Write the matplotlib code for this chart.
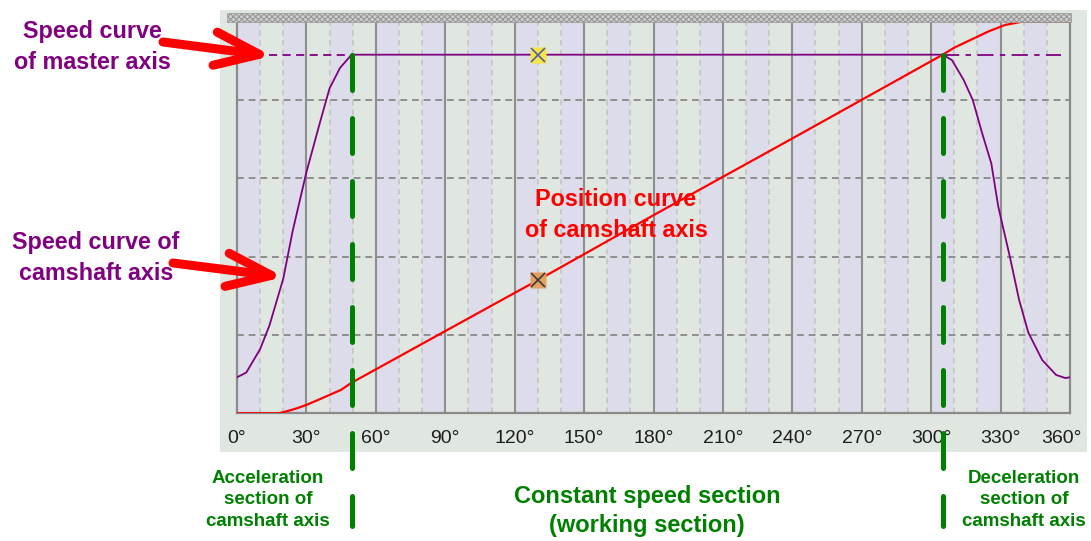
import numpy as np
import matplotlib
matplotlib.use('Agg')
import matplotlib.pyplot as plt
from matplotlib.patches import Rectangle, FancyArrowPatch
from matplotlib.transforms import ScaledTranslation

plt.rcParams['font.family'] = ['Liberation Sans', 'DejaVu Sans']
plt.rcParams['hatch.linewidth'] = 0.8

# Data (cam angle in degrees, y in grid units 0..5)
speed_deg = [0, 4, 10, 14, 20, 24, 30, 36, 40, 44.5, 49.5,
             305, 309, 314, 318, 322, 326, 329, 334, 338, 342, 348, 354, 358, 360]
speed_val = [0.46, 0.52, 0.82, 1.12, 1.72, 2.32, 3.08, 3.73, 4.15, 4.41, 4.58,
             4.58, 4.51, 4.26, 4.00, 3.58, 3.19, 2.64, 2.00, 1.45, 1.03, 0.68, 0.49, 0.45, 0.46]

pos_deg = [0, 18, 22, 26, 30, 35, 40, 45, 49.5, 90, 130, 180, 240,
           305, 310, 315, 320, 325, 332, 339, 360]
pos_val = [0.0, 0.0, 0.03, 0.065, 0.107, 0.17, 0.235, 0.30, 0.39, 1.05, 1.70, 2.53, 3.51,
           4.58, 4.67, 4.74, 4.81, 4.88, 4.96, 5.0, 5.0]

master_level = 4.58
master_left = [14, 49.5]
master_right = [305, 356]

section_bounds = [49.5, 305]
marker_deg = 130
marker_speed = 4.58
marker_pos = 1.70

tick_deg = list(range(0, 361, 30))
tick_labels = [f'{d}°' for d in tick_deg]

W, H = 1091, 541
PURPLE = '#800080'
GREEN = '#008000'
LAVENDER = '#DCDCEB'
SAGE = '#E0E6E0'
YTOP = 5.03
PX_PER_UNIT = 78.3


def fx(x):
    return x / W


def fy(y):
    return 1 - y / H


fig = plt.figure(figsize=(W / 100, H / 100), dpi=100)
fig.patch.set_facecolor('white')

# grey-green panel behind the chart
fig.patches.append(Rectangle((fx(220), fy(452)), fx(1087) - fx(220), (452 - 10) / H,
                             transform=fig.transFigure, facecolor=SAGE,
                             edgecolor='none', zorder=-2))
# hatched strip on top of the plot area
fig.patches.append(Rectangle((fx(227), fy(21.5)), fx(1071) - fx(227), 8.5 / H,
                             transform=fig.transFigure, facecolor='#D0D0D0',
                             edgecolor='#969696', hatch='xxxxxx', lw=0.5, zorder=5))

ax_h = YTOP * PX_PER_UNIT
ax = fig.add_axes([fx(237), fy(413.3), fx(1070) - fx(237), ax_h / H])
ax.set_xlim(0, 360)
ax.set_ylim(0, YTOP)
ax.set_facecolor(SAGE)

# alternating 10 degree bands
for i, d in enumerate(range(0, 360, 10)):
    ax.axvspan(d, d + 10, color=LAVENDER if i % 2 == 0 else SAGE, lw=0, zorder=0)

for d in range(10, 360, 10):
    if d % 30 == 0:
        ax.axvline(d, color='#8E8E8E', lw=1.5, zorder=1)
    else:
        ax.axvline(d, color='#C6C6C6', lw=1.3, dashes=(3, 2.5), zorder=1)
for yv in [1, 2, 3, 4]:
    ax.axhline(yv, color='#8E8E8E', lw=1.4, dashes=(3.5, 2.5), zorder=1)

# curves
ax.plot(speed_deg, speed_val, color=PURPLE, lw=1.3, zorder=3)
ax.plot(master_left, [master_level] * 2, color=PURPLE, lw=1.3, dashes=(4.5, 3), zorder=3)
ax.plot(master_right, [master_level] * 2, color=PURPLE, lw=1.3,
        dashes=(9, 3.5, 3, 3.5), zorder=3)
ax.plot(pos_deg, pos_val, color='#FF0000', lw=1.6, zorder=4)

# markers
ax.plot(marker_deg, marker_speed, 's', ms=11, mfc='#F2E640', mec='none', zorder=5)
ax.plot(marker_deg, marker_speed, 'x', ms=10, mew=1.2, color='#5A5AB0', zorder=6)
ax.plot(marker_deg, marker_pos, 's', ms=11, mfc='#E4A060', mec='none', zorder=5)
ax.plot(marker_deg, marker_pos, 'x', ms=10, mew=1.2, color='#3A3A3A', zorder=6)

# green section boundaries, running below the axis
for b in section_bounds:
    ax.plot([b, b], [master_level, -1.44], color=GREEN, lw=3.6, dashes=(7.0, 5.6),
            solid_capstyle='round', dash_capstyle='round', clip_on=False, zorder=7)

ax.spines['top'].set_visible(False)
for s in ['left', 'right', 'bottom']:
    ax.spines[s].set_color('#8A8A8A')
    ax.spines[s].set_linewidth(1.6)

ax.set_yticks([])
ax.set_xticks(tick_deg)
ax.set_xticklabels(tick_labels, fontsize=14, color='#1E1E1E')
ax.tick_params(axis='x', length=0, pad=12)
last = ax.get_xticklabels()[-1]
last.set_transform(last.get_transform() + ScaledTranslation(-9 / 100, 0, fig.dpi_scale_trans))

# annotations
fig.text(fx(92), fy(47), 'Speed curve\nof master axis', color=PURPLE, fontsize=16.8,
         fontweight='bold', ha='center', va='center', linespacing=1.45)
fig.text(fx(96), fy(258), 'Speed curve of\ncamshaft axis', color=PURPLE, fontsize=16.8,
         fontweight='bold', ha='center', va='center', linespacing=1.45)
fig.text(fx(616), fy(215), 'Position curve\nof camshaft axis', color='#FF0000', fontsize=16.8,
         fontweight='bold', ha='center', va='center', linespacing=1.45)
fig.text(fx(268), fy(500), 'Acceleration\nsection of\ncamshaft axis', color=GREEN,
         fontsize=13.5, fontweight='bold', ha='center', va='center', linespacing=1.35)
fig.text(fx(1024), fy(500), 'Deceleration\nsection of\ncamshaft axis', color=GREEN,
         fontsize=13.5, fontweight='bold', ha='center', va='center', linespacing=1.35)
fig.text(fx(647), fy(511), 'Constant speed section\n(working section)', color=GREEN,
         fontsize=17, fontweight='bold', ha='center', va='center', linespacing=1.3)

for tail, tip in [((163, 42), (272, 56)), ((173, 263), (284, 277))]:
    arr = FancyArrowPatch(posA=(fx(tail[0]), fy(tail[1])), posB=(fx(tip[0]), fy(tip[1])),
                          transform=fig.transFigure,
                          arrowstyle='->,head_length=3.2,head_width=1.2',
                          mutation_scale=10, lw=6.5, color='#FF0000',
                          capstyle='round', joinstyle='round',
                          shrinkA=0, shrinkB=0, zorder=10)
    fig.patches.append(arr)

fig.savefig('out.png', dpi=100)
